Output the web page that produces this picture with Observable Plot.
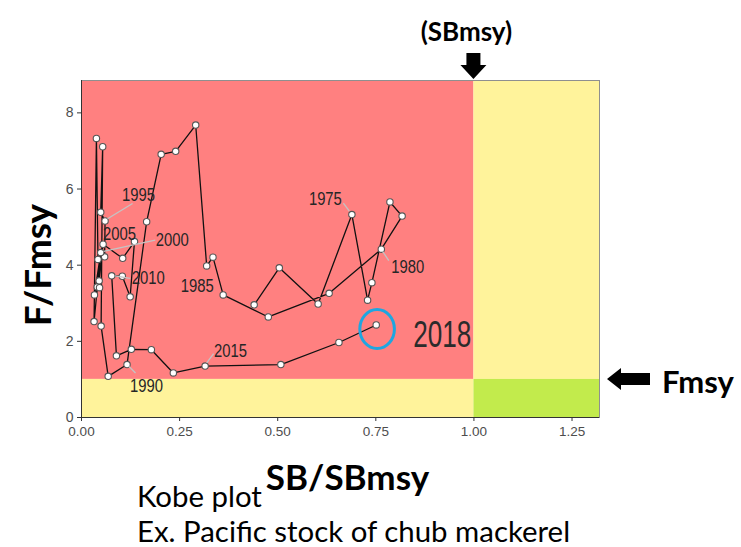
<!DOCTYPE html>
<html><head><meta charset="utf-8">
<script src="https://cdn.jsdelivr.net/npm/d3@7"></script>
<script src="https://cdn.jsdelivr.net/npm/@observablehq/plot@0.6"></script>
<style>
body{margin:0;background:#fff;}
#wrap{position:relative;width:741px;height:547px;overflow:hidden;}
.cap{position:absolute;left:137px;font-family:Lato,"Open Sans",sans-serif;font-size:29.4px;color:#000;white-space:nowrap;line-height:1;}
</style></head><body>
<div id="wrap"><div id="chart"></div>
<div class="cap" style="top:481px">Kobe plot</div>
<div class="cap" style="top:516px">Ex. Pacific stock of chub mackerel</div>
</div>
<script>
// ---- data ----
const years = [1972,1973,1974,1975,1976,1977,1978,1979,1980,1981,1982,1983,1984,1985,1986,1987,1988,1989,
  1990,1991,1992,1993,1994,1995,1996,1997,1998,1999,2000,2001,2002,2003,2004,2005,2006,2007,2008,2009,
  2010,2011,2012,2013,2014,2015,2016,2017,2018];
const sbRatio = [0.440,0.504,0.603,0.689,0.729,0.740,0.786,0.817,0.764,0.631,0.476,0.361,0.335,0.319,0.291,0.240,0.203,0.166,
  0.116,0.068,0.050,0.054,0.049,0.060,0.059,0.042,0.038,0.032,0.049,0.033,0.040,0.046,0.045,0.055,0.105,0.135,0.124,0.104,
  0.077,0.089,0.127,0.178,0.234,0.315,0.508,0.656,0.751];
const fRatio = [2.96,3.93,2.98,5.33,3.08,3.54,5.66,5.29,4.42,3.26,2.64,3.22,4.21,3.98,7.68,6.99,6.91,5.14,
  1.39,1.08,2.40,7.11,5.39,5.16,4.22,4.15,7.33,2.52,4.33,3.22,3.43,3.41,3.59,4.55,4.18,4.62,3.17,3.71,
  3.72,1.62,1.79,1.78,1.17,1.35,1.39,1.97,2.43];
const labelYears = [1975,1980,1985,1990,1995,2000,2005,2010,2015];
const highlightYear = 2018;
const xTicks = [0,0.25,0.5,0.75,1.0,1.25];
const yTicks = [0,2,4,6,8];
const sbmsy = 1, fmsy = 1, xMax = 1.32, yMax = 8.85;
const zoneX1 = [0, 0, sbmsy, sbmsy];
const zoneX2 = [sbmsy, sbmsy, xMax, xMax];
const zoneY1 = [fmsy, 0, fmsy, 0];
const zoneY2 = [yMax, fmsy, yMax, fmsy];
const zoneColors = ["#ff8080", "#fff39b", "#fff39b", "#c2eb4c"];

// ---- layout / style (pixel offsets of repelled labels) ----
const labelLayout = {
  1975: {dx:-26, dy:-15.5, sx:-8, sy:-11},
  1980: {dx:27, dy:17.5, sx:8, sy:12},
  1985: {dx:-9, dy:20},
  1990: {dx:20, dy:21, sx:9, sy:9},
  1995: {dx:34, dy:-26, sx:28, sy:-17},
  2000: {dx:72, dy:-12.4, sx:55, sy:-12},
  2005: {dx:17, dy:-10.6},
  2010: {dx:37, dy:2, sx:19, sy:3},
  2015: {dx:26, dy:-15, sx:9, sy:-12}
};

const traj = years.map((yr, i) => ({year: yr, sb: sbRatio[i], f: fRatio[i]}));
const byYear = new Map(traj.map(d => [d.year, d]));

function annotations(index, scales, values, dims) {
  const sx = scales.x, sy = scales.y;
  const g = d3.create("svg:g");
  for (const yr of labelYears) {
    const d = byYear.get(yr), L = labelLayout[yr];
    const px = sx(d.sb), py = sy(d.f);
    if (L.sx !== undefined) {
      const len = Math.hypot(L.sx, L.sy), ux = L.sx / len, uy = L.sy / len;
      g.append("line").attr("x1", px + ux*3.5).attr("y1", py + uy*3.5)
        .attr("x2", px + L.sx).attr("y2", py + L.sy)
        .attr("stroke", "#c4c4c4").attr("stroke-width", 1.3);
    }
    g.append("text").attr("x", px + L.dx).attr("y", py + L.dy).attr("dy", "0.36em")
      .attr("text-anchor", "middle").attr("font-family", "Liberation Sans, Arial, sans-serif")
      .attr("font-size", 18).attr("textLength", 33).attr("lengthAdjust", "spacingAndGlyphs")
      .attr("fill", "#262626").text(String(yr));
  }
  const h = byYear.get(highlightYear);
  const hx = sx(h.sb), hy = sy(h.f);
  g.append("ellipse").attr("cx", hx + 1.4).attr("cy", hy + 4.5).attr("rx", 17.3).attr("ry", 19.5)
    .attr("fill", "none").attr("stroke", "#1fa6e0").attr("stroke-width", 3);
  g.append("text").attr("x", hx + 37.5).attr("y", hy + 22.4).attr("text-anchor", "start")
    .attr("font-family", "Liberation Sans, Arial, sans-serif").attr("font-size", 37)
    .attr("textLength", 58).attr("lengthAdjust", "spacingAndGlyphs")
    .attr("fill", "#2b2b2b").text(String(highlightYear));
  const ax = sx(sbmsy), top = dims.marginTop;
  g.append("path").attr("d", `M${ax-7},${top-27} H${ax+7} V${top-15} H${ax+13} L${ax},${top-1} L${ax-13},${top-15} H${ax-7} Z`)
    .attr("fill", "#000");
  g.append("text").attr("x", ax - 7).attr("y", 41).attr("text-anchor", "middle")
    .attr("font-family", "Lato, sans-serif").attr("font-weight", "bold").attr("font-size", 26)
    .attr("fill", "#000").text("(SBmsy)");
  const ay = sy(fmsy), right = dims.width - dims.marginRight;
  g.append("path").attr("d", `M${right+8},${ay} L${right+22},${ay-11} V${ay-6} H${right+51} V${ay+6} H${right+22} V${ay+11} Z`)
    .attr("fill", "#000");
  g.append("text").attr("x", right + 63).attr("y", ay + 14).attr("text-anchor", "start")
    .attr("font-family", "Lato, sans-serif").attr("font-weight", "bold").attr("font-size", 31)
    .attr("fill", "#000").text("Fmsy");
  return g.node();
}

const chart = Plot.plot({
  width: 741, height: 547,
  marginTop: 80, marginLeft: 81, marginRight: 142, marginBottom: 130,
  x: {domain: [0, xMax], axis: null},
  y: {domain: [0, yMax], axis: null},
  style: {fontFamily: "Liberation Sans, Arial, sans-serif", background: "white", overflow: "visible"},
  marks: [
    Plot.rect(d3.range(zoneX1.length), {x1: i => zoneX1[i], x2: i => zoneX2[i], y1: i => zoneY1[i], y2: i => zoneY2[i], fill: i => zoneColors[i]}),
    Plot.frame({stroke: "#8f8f8f"}),
    Plot.ruleY([0], {stroke: "#333"}),
    Plot.ruleX([0], {stroke: "#333"}),
    Plot.axisX(xTicks, {tickFormat: d3.format(".2f"), tickSize: 4, tickPadding: 5, fontSize: 13.5, fill: "#4d4d4d", stroke: "#333", label: null}),
    Plot.axisY(yTicks, {tickFormat: d3.format("d"), tickSize: 4, tickPadding: 4, fontSize: 14, fill: "#4d4d4d", stroke: "#333", label: null}),
    Plot.line(traj, {x: "sb", y: "f", stroke: "#111", strokeWidth: 1.3}),
    Plot.dot(traj, {x: "sb", y: "f", r: 3.2, fill: "white", stroke: "#555", strokeWidth: 1.1}),
    annotations,
    Plot.text(["F/Fmsy"], {frameAnchor: "left", text: d => d, rotate: -90, textAnchor: "middle", lineAnchor: "middle", dx: -42, dy: 16, fontSize: 37, fontWeight: "bold", fontFamily: "Lato, sans-serif", fill: "#000"}),
    Plot.text(["SB/SBmsy"], {frameAnchor: "bottom", text: d => d, textAnchor: "middle", dx: 7, dy: 72, fontSize: 35, fontWeight: "bold", fontFamily: "Lato, sans-serif", fill: "#000"})
  ]
});
document.getElementById("chart").appendChild(chart);
</script>
</body></html>
